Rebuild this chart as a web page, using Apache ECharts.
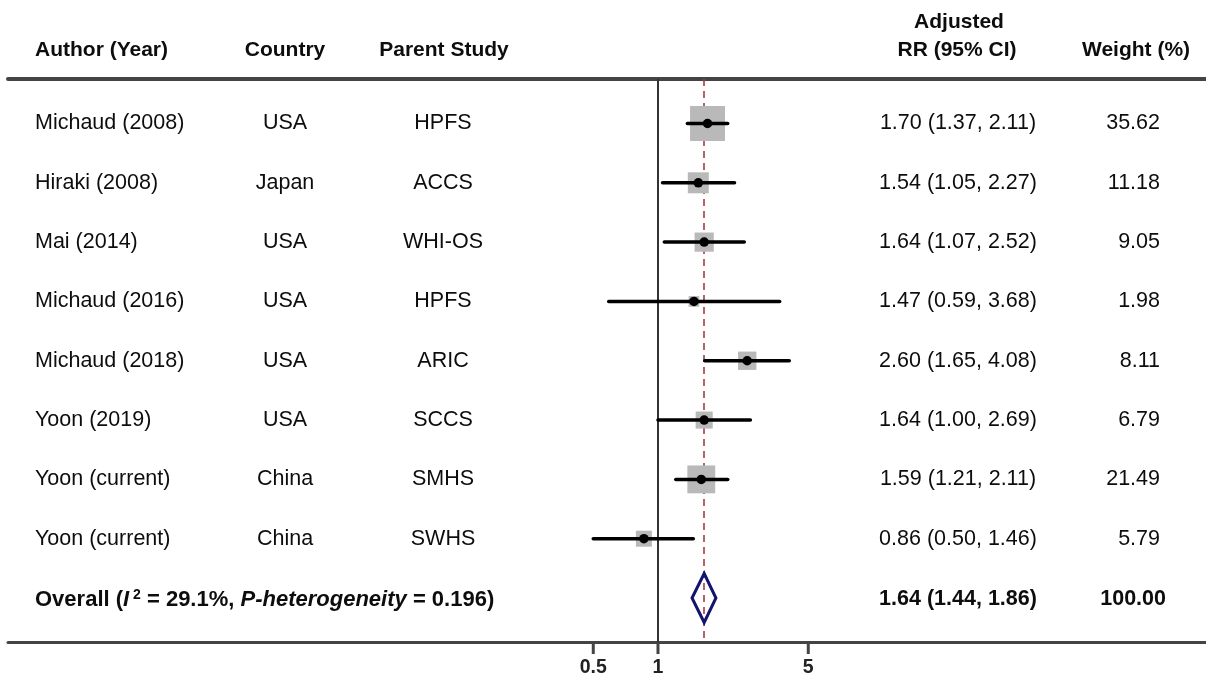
<!DOCTYPE html>
<html>
<head>
<meta charset="utf-8">
<title>Forest plot</title>
<script src="https://cdn.jsdelivr.net/npm/echarts@6/dist/echarts.min.js"></script>
<style>
  html, body { margin: 0; padding: 0; background: #fff; }
  #myChart_forest { width: 1206px; height: 679px; }
</style>
</head>
<body>
<div id="myChart_forest"></div>
<script>
// 研究信息
const authors = ['Michaud (2008)', 'Hiraki (2008)', 'Mai (2014)', 'Michaud (2016)', 'Michaud (2018)', 'Yoon (2019)', 'Yoon (current)', 'Yoon (current)']
const countries = ['USA', 'Japan', 'USA', 'USA', 'USA', 'USA', 'China', 'China']
const studies = ['HPFS', 'ACCS', 'WHI-OS', 'HPFS', 'ARIC', 'SCCS', 'SMHS', 'SWHS']
// RR 及 95% CI
const rrValues = [1.70, 1.54, 1.64, 1.47, 2.60, 1.64, 1.59, 0.86]
const lowerValues = [1.37, 1.05, 1.07, 0.59, 1.65, 1.00, 1.21, 0.50]
const upperValues = [2.11, 2.27, 2.52, 3.68, 4.08, 2.69, 2.11, 1.46]
const weights = [35.62, 11.18, 9.05, 1.98, 8.11, 6.79, 21.49, 5.79]
// 合并结果
const overallRR = 1.64
const overallLower = 1.44
const overallUpper = 1.86
const overallWeight = 100.00
const i2Value = 29.1
const pHeterogeneity = 0.196
// x轴刻度
const tickValues = [0.5, 1, 5]

const fontFamily = '"Liberation Sans", Arial, sans-serif'
const textColor = '#0d0d0d'
const lineColor = '#444'
// 列位置
const colX = { author: 35, country: 285, study: 443, rr: 958, weight: 1160 }
const overallRow = authors.length
const yMin = -0.75
const yMax = 8.75

function fmt(v) {
  return v.toFixed(2)
}

let myChart = echarts.init(document.getElementById('myChart_forest'))
myChart.setOption({
  animation: false,
  grid: {
    left: 8,
    right: 0,
    top: 79,
    bottom: 36.5,
  },
  xAxis: [
    {
      type: 'log',
      logBase: 10,
      min: 0.000948,
      max: 353.9,
      axisLine: { show: true, onZero: false, lineStyle: { color: lineColor, width: 3 } },
      axisTick: { show: false },
      axisLabel: { show: false },
      splitLine: { show: false },
    },
    {
      // 表头下方的横线
      type: 'value',
      position: 'top',
      min: 0,
      max: 1,
      axisLine: { show: true, onZero: false, lineStyle: { color: lineColor, width: 4 } },
      axisTick: { show: false },
      axisLabel: { show: false },
      splitLine: { show: false },
    },
  ],
  yAxis: {
    type: 'value',
    inverse: true,
    min: yMin,
    max: yMax,
    show: false,
  },
  graphic: [
    { type: 'text', x: 35, y: 50, style: { text: 'Author (Year)', fontFamily, fontSize: 21, fontWeight: 'bold', fill: textColor, align: 'left', verticalAlign: 'middle' } },
    { type: 'text', x: 285, y: 50, style: { text: 'Country', fontFamily, fontSize: 21, fontWeight: 'bold', fill: textColor, align: 'center', verticalAlign: 'middle' } },
    { type: 'text', x: 444, y: 50, style: { text: 'Parent Study', fontFamily, fontSize: 21, fontWeight: 'bold', fill: textColor, align: 'center', verticalAlign: 'middle' } },
    { type: 'text', x: 959, y: 22, style: { text: 'Adjusted', fontFamily, fontSize: 21, fontWeight: 'bold', fill: textColor, align: 'center', verticalAlign: 'middle' } },
    { type: 'text', x: 957, y: 50, style: { text: 'RR (95% CI)', fontFamily, fontSize: 21, fontWeight: 'bold', fill: textColor, align: 'center', verticalAlign: 'middle' } },
    { type: 'text', x: 1136, y: 50, style: { text: 'Weight (%)', fontFamily, fontSize: 21, fontWeight: 'bold', fill: textColor, align: 'center', verticalAlign: 'middle' } },
  ],
  series: [
    {
      // 权重方块 + 参考线
      name: 'weight',
      type: 'scatter',
      z: 2,
      symbol: 'rect',
      symbolSize: function (val, params) {
        return 3.2 + 5.32 * Math.sqrt(weights[params.dataIndex])
      },
      itemStyle: { color: '#b9b9b9', opacity: 1 },
      data: rrValues.map((v, i) => [v, i]),
      markLine: {
        silent: true,
        z: 1,
        symbol: 'none',
        label: { show: false },
        data: [
          { xAxis: 1, lineStyle: { color: '#333', width: 2, type: 'solid' } },
          { xAxis: overallRR, lineStyle: { color: '#a83a3f', width: 1.6, type: [7, 5] } },
        ],
      },
    },
    {
      // 95% CI
      name: 'ci',
      type: 'custom',
      z: 3,
      encode: { x: [0, 1], y: 2 },
      data: lowerValues.map((v, i) => [v, upperValues[i], i]),
      renderItem: function (params, api) {
        let p1 = api.coord([api.value(0), api.value(2)])
        let p2 = api.coord([api.value(1), api.value(2)])
        return {
          type: 'line',
          shape: { x1: p1[0], y1: p1[1], x2: p2[0], y2: p2[1] },
          style: { stroke: '#000', lineWidth: 3.5, lineCap: 'round' },
        }
      },
    },
    {
      name: 'rr',
      type: 'scatter',
      z: 4,
      symbol: 'circle',
      symbolSize: 9.5,
      itemStyle: { color: '#000', opacity: 1 },
      data: rrValues.map((v, i) => [v, i]),
    },
    {
      // 合并效应菱形
      name: 'overall',
      type: 'custom',
      z: 4,
      encode: { x: [0, 1, 2], y: 3 },
      data: [[overallRR, overallLower, overallUpper, overallRow]],
      renderItem: function (params, api) {
        let c = api.coord([api.value(0), api.value(3)])
        let l = api.coord([api.value(1), api.value(3)])
        let r = api.coord([api.value(2), api.value(3)])
        return {
          type: 'polygon',
          shape: { points: [[l[0], c[1]], [c[0], c[1] - 24.5], [r[0], c[1]], [c[0], c[1] + 24.5]] },
          style: { fill: 'none', stroke: '#14146e', lineWidth: 3 },
        }
      },
    },
    {
      // 表格文字
      name: 'table',
      type: 'custom',
      z: 5,
      silent: true,
      encode: { x: 0, y: 1 },
      data: authors.map((a, i) => [1, i]),
      renderItem: function (params, api) {
        let i = params.dataIndex
        let y = api.coord([1, api.value(1)])[1]
        let base = { fontFamily, fontSize: 21.5, fill: textColor, verticalAlign: 'middle' }
        return {
          type: 'group',
          children: [
            { type: 'text', x: colX.author, y: y, style: Object.assign({ text: authors[i], align: 'left' }, base) },
            { type: 'text', x: colX.country, y: y, style: Object.assign({ text: countries[i], align: 'center' }, base) },
            { type: 'text', x: colX.study, y: y, style: Object.assign({ text: studies[i], align: 'center' }, base) },
            { type: 'text', x: colX.rr, y: y, style: Object.assign({ text: fmt(rrValues[i]) + ' (' + fmt(lowerValues[i]) + ', ' + fmt(upperValues[i]) + ')', align: 'center' }, base) },
            { type: 'text', x: colX.weight, y: y, style: Object.assign({ text: fmt(weights[i]), align: 'right' }, base) },
          ],
        }
      },
    },
    {
      // 合并结果文字
      name: 'overallText',
      type: 'custom',
      z: 5,
      silent: true,
      encode: { x: 0, y: 1 },
      data: [[1, overallRow]],
      renderItem: function (params, api) {
        let y = api.coord([1, api.value(1)])[1] + 1.5
        let base = { fontFamily, fontSize: 21.5, fontWeight: 'bold', fill: textColor, verticalAlign: 'middle' }
        return {
          type: 'group',
          children: [
            {
              type: 'text', x: colX.author, y: y,
              style: Object.assign({
                text: '{b|Overall (}{bi|I}{sup| 2}{b| = ' + i2Value.toFixed(1) + '%, }{bi|P-heterogeneity}{b| = ' + pHeterogeneity + ')}',
                align: 'left',
                rich: {
                  b: { fontFamily, fontSize: 22, fontWeight: 'bold', fill: textColor },
                  bi: { fontFamily, fontSize: 22, fontWeight: 'bold', fontStyle: 'italic', fill: textColor },
                  sup: { fontFamily, fontSize: 14, fontWeight: 'bold', fill: textColor, verticalAlign: 'top', padding: [0, 0, 8, 0] },
                },
              }, base),
            },
            { type: 'text', x: colX.rr, y: y, style: Object.assign({ text: fmt(overallRR) + ' (' + fmt(overallLower) + ', ' + fmt(overallUpper) + ')', align: 'center' }, base) },
            { type: 'text', x: 1166, y: y, style: Object.assign({ text: fmt(overallWeight), align: 'right' }, base) },
          ],
        }
      },
    },
    {
      // x轴刻度和标签
      name: 'ticks',
      type: 'custom',
      z: 5,
      silent: true,
      encode: { x: 0, y: 1 },
      data: tickValues.map(v => [v, yMax]),
      renderItem: function (params, api) {
        let p = api.coord([api.value(0), api.value(1)])
        return {
          type: 'group',
          children: [
            { type: 'line', shape: { x1: p[0], y1: p[1] + 1.5, x2: p[0], y2: p[1] + 11.5 }, style: { stroke: lineColor, lineWidth: 3 } },
            { type: 'text', x: p[0], y: p[1] + 25.5, style: { text: String(tickValues[params.dataIndex]), fontFamily, fontSize: 19.5, fontWeight: 'bold', fill: '#222', align: 'center', verticalAlign: 'middle' } },
          ],
        }
      },
    },
  ],
})
window.addEventListener('resize', function () {
  myChart.resize()
})
</script>
</body>
</html>
